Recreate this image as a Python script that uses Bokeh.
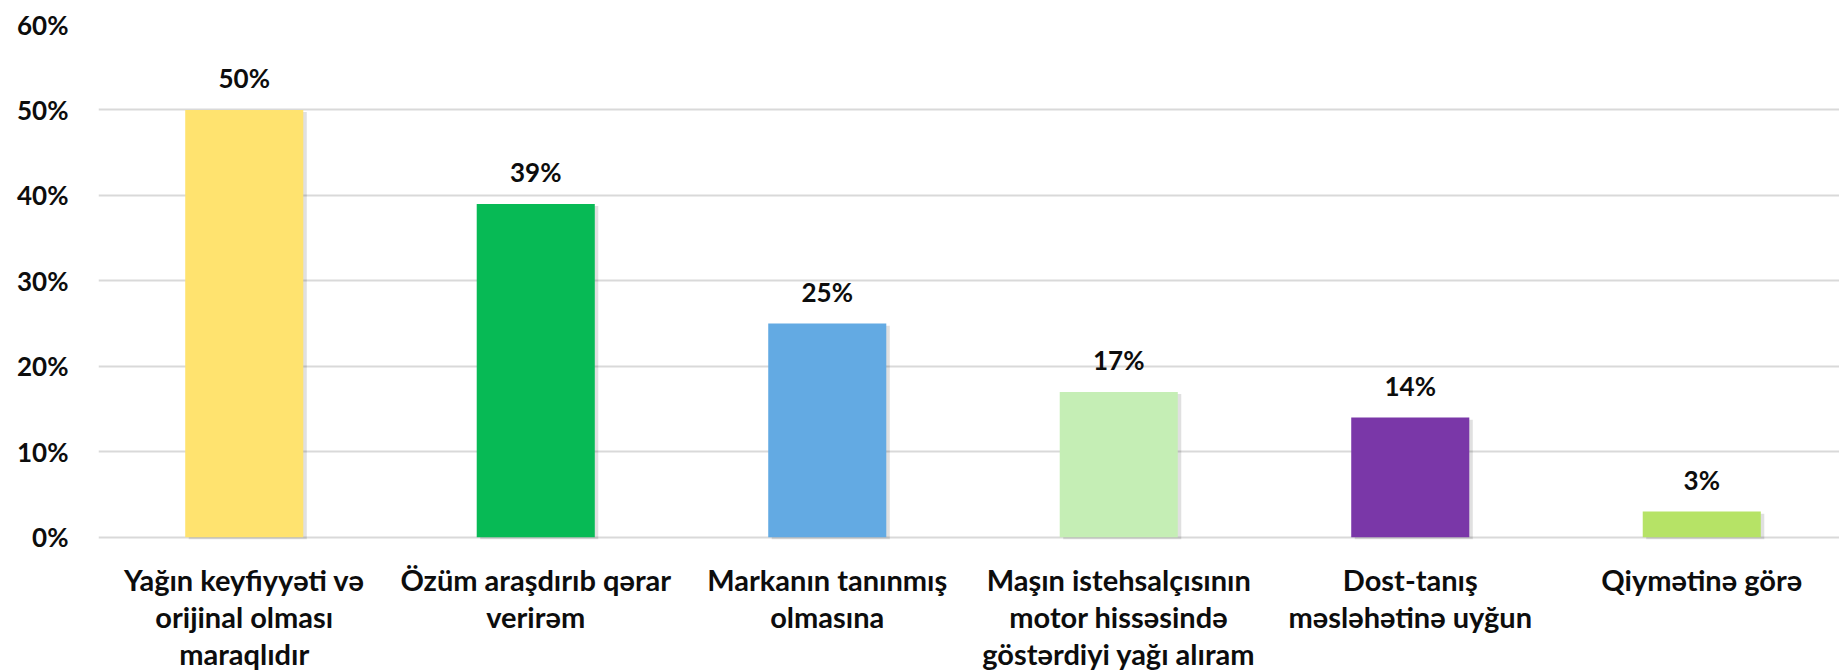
from bokeh.plotting import figure
from bokeh.layouts import column
from bokeh.models import FixedTicker, ColumnDataSource, Range1d
from bokeh.core.properties import value
from bokeh.embed import file_html
from bokeh.resources import INLINE

categories = [
    "Yağın keyfiyyəti və\norijinal olması\nmaraqlıdır",
    "Özüm araşdırıb qərar\nverirəm",
    "Markanın tanınmış\nolmasına",
    "Maşın istehsalçısının\nmotor hissəsində\ngöstərdiyi yağı alıram",
    "Dost-tanış\nməsləhətinə uyğun",
    "Qiymətinə görə",
]
values = [50, 39, 25, 17, 14, 3]
colors = ["#FFE36F", "#07BA55", "#63AAE3", "#C5EEB5", "#7A37A8", "#B6E366"]
y_ticks = [0, 10, 20, 30, 40, 50, 60]
y_tick_labels = ["0%", "10%", "20%", "30%", "40%", "50%", "60%"]

FONT = "Lato"
TXT = "#0D0D0D"
idx = list(range(len(categories)))
src = ColumnDataSource(dict(
    x=idx, top=values, color=colors,
    label=[f"{v}%" for v in values], cat=categories,
))

x_range = Range1d(-0.5, 5.4725)

p = figure(width=1839, height=558, output_backend="svg", toolbar_location=None,
           x_range=x_range, y_range=Range1d(-2.5, 60),
           min_border_left=98, min_border_right=0, min_border_top=24, min_border_bottom=0)
p.outline_line_color = None
p.background_fill_color = "white"
p.border_fill_color = "white"

# soft shadow behind bars
p.vbar(x=[i + 0.012 for i in idx], top=[v - 0.25 for v in values], bottom=-0.25, width=0.405,
       fill_color="#000000", fill_alpha=0.12, line_color=None)
p.vbar(x="x", top="top", width=0.405, fill_color="color", line_color=None, source=src)

p.text(x="x", y="top", text="label", source=src, text_align="center", text_baseline="middle",
       y_offset=-32, text_font=value(FONT), text_font_style="bold", text_font_size="26px",
       text_color=TXT)

p.xaxis.visible = False
p.xgrid.grid_line_color = None

p.yaxis.ticker = FixedTicker(ticks=y_ticks)
p.yaxis.major_label_overrides = {t: l for t, l in zip(y_ticks, y_tick_labels)}
p.yaxis.axis_line_color = None
p.yaxis.major_tick_line_color = None
p.yaxis.minor_tick_line_color = None
p.yaxis.major_tick_out = 0
p.yaxis.major_label_text_font = FONT
p.yaxis.major_label_text_font_style = "bold"
p.yaxis.major_label_text_font_size = "26px"
p.yaxis.major_label_text_color = TXT
p.yaxis.major_label_standoff = 30
p.ygrid.grid_line_color = "#D9D9D9"
p.ygrid.grid_line_width = 2

# category labels strip (shares the x scale)
q = figure(width=1839, height=113, output_backend="svg", toolbar_location=None,
           x_range=x_range, y_range=Range1d(113, 0),
           min_border_left=98, min_border_right=0, min_border_top=0, min_border_bottom=0)
q.outline_line_color = None
q.axis.visible = False
q.grid.grid_line_color = None
q.background_fill_color = "white"
q.border_fill_color = "white"
q.text(x="x", y=3, text="cat", source=src, text_align="center", text_baseline="top",
       text_font=value(FONT), text_font_style="bold", text_font_size="29px",
       text_color=TXT, text_line_height=1.06)

layout = column(p, q, spacing=0)
open("out.html", "w").write(file_html(layout, INLINE))
